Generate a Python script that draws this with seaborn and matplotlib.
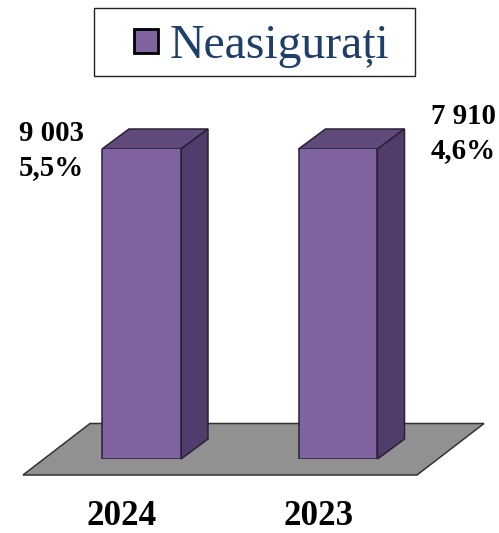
import matplotlib
matplotlib.use("Agg")
import matplotlib.pyplot as plt
from matplotlib.patches import Polygon, Rectangle, Patch
from matplotlib.transforms import Affine2D, IdentityTransform
import seaborn as sns
import pandas as pd

years = ["2024", "2023"]
insured_counts = [9003, 7910]
count_labels = ["9 003", "7 910"]
share_labels = ["5,5%", "4,6%"]
series_name = "Neasigurați"
axis_max = 7000

W, H = 499, 533
sns.set_theme(style="white")
plt.rcParams["font.family"] = ["Liberation Serif", "DejaVu Serif"]

FRONT, TOP, SIDE = "#8064A2", "#604A7B", "#513D6B"
EDGE = "#2A2035"
DX, DY = 27, 20

def px(x, y):
    return (x, H - y)

fig = plt.figure(figsize=(W / 100, H / 100), dpi=100, facecolor="white")
ax = fig.add_axes([43.25 / W, (H - 459) / H, 393 / W, 310 / H])
ax.set_facecolor("none")
df = pd.DataFrame({"year": years, "count": insured_counts})
sns.barplot(data=df, x="year", y="count", color=FRONT, saturation=1, width=0.402,
            edgecolor=EDGE, linewidth=1.1, ax=ax, zorder=3)
ax.set_xlim(-0.5, 1.5)
ax.set_ylim(0, axis_max)
ax.set_xlabel("")
ax.set_ylabel("")
ax.set_yticks([])
sns.despine(ax=ax, left=True, bottom=True, top=True, right=True)
ax.tick_params(axis="x", length=0, pad=29.5)
for lab in ax.get_xticklabels():
    lab.set_fontsize(25.2)
    lab.set_fontweight("bold")
    lab.set_color("black")
    lab.set_transform(lab.get_transform() + Affine2D().translate(-19.5, 0))

# floor plane
ident = IdentityTransform()
floor = [px(23, 475), px(90, 423.5), px(484, 423.5), px(417, 475)]
fig.add_artist(Polygon(floor, closed=True, facecolor="#919191", edgecolor="#333333",
                       linewidth=1.1, transform=ident, zorder=1))
ax.set_zorder(2)

# 3D faces derived from the bars
fig.canvas.draw()
for bar in ax.patches:
    x0, x1 = bar.get_x(), bar.get_x() + bar.get_width()
    h = min(bar.get_height(), axis_max)
    (ax0, ay0), (ax1, ay1) = ax.transData.transform([(x0, 0), (x1, h)])
    top = [(ax0, ay1), (ax1, ay1), (ax1 + DX, ay1 + DY), (ax0 + DX, ay1 + DY)]
    side = [(ax1, ay0), (ax1 + DX, ay0 + DY), (ax1 + DX, ay1 + DY), (ax1, ay1)]
    for pts, col in ((top, TOP), (side, SIDE)):
        ax.add_patch(Polygon(pts, closed=True, facecolor=col, edgecolor=EDGE, linewidth=1.1,
                             transform=ident, clip_on=False, zorder=2))

# data labels
label_pos = [(19, 141, 175), (431, 124, 158)]
for (lx, y1, y2), c, s in zip(label_pos, count_labels, share_labels):
    for t, y in ((c, y1), (s, y2)):
        fig.text(lx / W, (H - y) / H, t, fontsize=20.8, fontweight="bold", color="black",
                 ha="left", va="baseline")

# legend
fig.add_artist(Rectangle(px(94, 76), 321, 68, facecolor="white", edgecolor="#222222",
                         linewidth=1, transform=ident, zorder=1))
handle = Patch(facecolor=FRONT, edgecolor="black", linewidth=2, label=series_name)
leg = fig.legend(handles=[handle], loc="center", bbox_to_anchor=(262 / W, (H - 46) / H),
                 frameon=False, fontsize=34.4, labelcolor="#1F3F6B", handlelength=0.5,
                 handleheight=0.42, handletextpad=0.25, borderpad=0, borderaxespad=0)
leg.set_zorder(5)
fig.savefig("out.png", dpi=100)
